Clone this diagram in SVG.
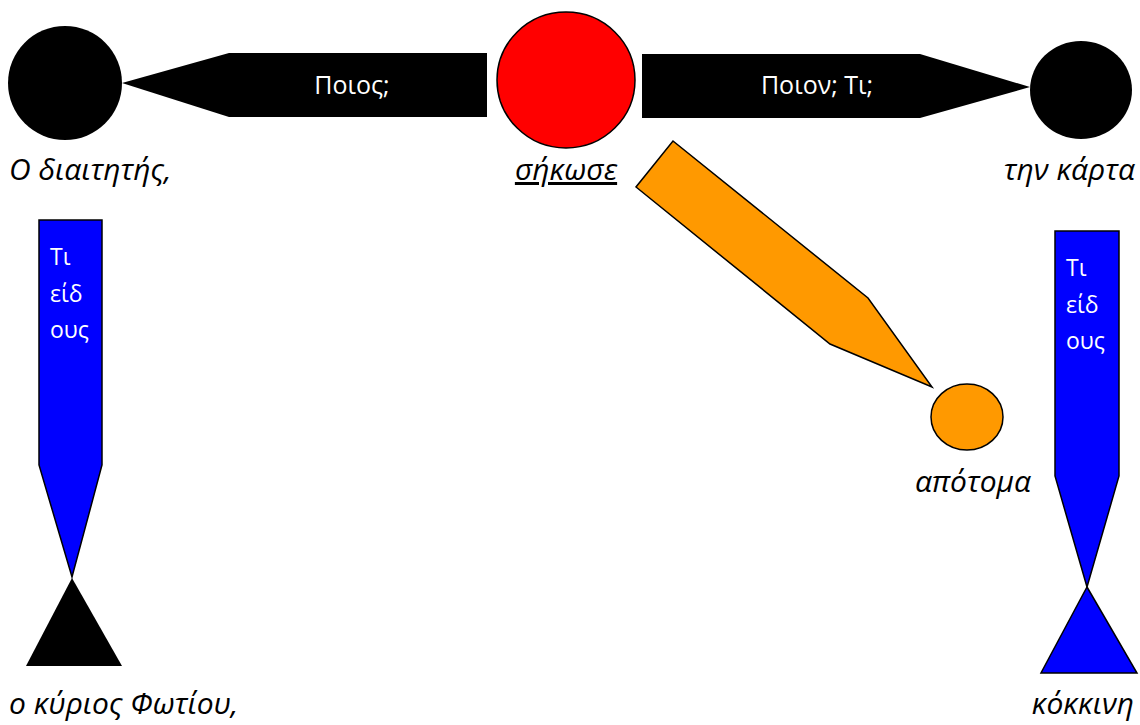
<svg xmlns="http://www.w3.org/2000/svg" width="1140" height="725" viewBox="0 0 1140 725">
<style>
.lbl{font-family:"Open Sans","Noto Sans","DejaVu Sans",sans-serif;font-style:italic;font-size:30px;fill:#000}
.in{font-family:"Open Sans","Noto Sans","DejaVu Sans",sans-serif;font-size:25px;fill:#fff}
.inv{font-family:"Open Sans","Noto Sans","DejaVu Sans",sans-serif;font-size:23px;fill:#fff}
.sh{stroke:#000;stroke-width:1.5;stroke-linejoin:miter}
</style>
<rect width="1140" height="725" fill="#fff"/>
<g id="connectors">
  <g id="c-poios">
    <polygon points="122,83 229,53 487,53 487,117 229,117" fill="#000"/>
    <text class="in" x="352" y="94" text-anchor="middle">Ποιος;</text>
  </g>
  <g id="c-poion">
    <polygon points="642,54 920,54 1030,87 920,118 642,118" fill="#000"/>
    <text class="in" x="817" y="94" text-anchor="middle">Ποιον; Τι;</text>
  </g>
  <g id="c-apotoma">
    <polygon class="sh" points="673,141 868,298 932,387 830,344 636,187" fill="#FF9900"/>
  </g>
  <g id="c-kyrios">
    <polygon class="sh" points="39,220 102,220 102,465 72,577 39,465" fill="#0000FF"/>
    <text class="inv" x="50" y="265">Τι</text>
    <text class="inv" x="50" y="302">είδ</text>
    <text class="inv" x="50" y="338">ους</text>
  </g>
  <g id="c-kokkini">
    <polygon class="sh" points="1055,231 1119,231 1119,476 1087,587 1055,476" fill="#0000FF"/>
    <text class="inv" x="1066" y="276">Τι</text>
    <text class="inv" x="1066" y="313">είδ</text>
    <text class="inv" x="1066" y="349">ους</text>
  </g>
</g>
<g id="n-diaititis">
  <ellipse cx="65" cy="83" rx="57" ry="57" fill="#000"/>
  <text class="lbl" x="9" y="180">Ο διαιτητής,</text>
</g>
<g id="n-sikose">
  <ellipse class="sh" cx="566" cy="80" rx="69" ry="68" fill="#FF0000"/>
  <text class="lbl" x="566" y="180" text-anchor="middle" text-decoration="underline">σήκωσε</text>
</g>
<g id="n-karta">
  <ellipse cx="1081" cy="90" rx="51" ry="49" fill="#000"/>
  <text class="lbl" x="1135" y="180" text-anchor="end">την κάρτα</text>
</g>
<g id="n-apotoma">
  <ellipse class="sh" cx="967" cy="417" rx="36" ry="33" fill="#FF9900"/>
  <text class="lbl" x="973" y="492" text-anchor="middle">απότομα</text>
</g>
<g id="n-kyrios">
  <polygon points="72,578 122,666 26,666" fill="#000"/>
  <text class="lbl" x="9" y="714">ο κύριος Φωτίου,</text>
</g>
<g id="n-kokkini">
  <polygon class="sh" points="1087,587 1137,673 1041,673" fill="#0000FF"/>
  <text class="lbl" x="1134" y="714" text-anchor="end">κόκκινη</text>
</g>
</svg>
